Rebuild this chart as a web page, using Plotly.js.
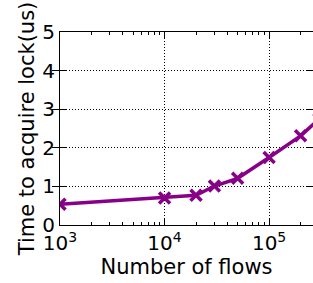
<!DOCTYPE html>
<html><head><meta charset="utf-8">
<script src="https://cdn.plot.ly/plotly-3.0.1.min.js"></script>
<style>html,body{margin:0;padding:0;background:#fff}</style>
</head><body><div id="chart" style="width:313px;height:283px"></div>
<script>
const flows = [1000, 10000, 20000, 30000, 50000, 100000, 200000, 300000];
const lockTimeUs = [0.54, 0.70, 0.77, 1.01, 1.21, 1.75, 2.31, 2.74];
const xTickVals = [1000, 10000, 100000];
const xTickText = ['10<sup>3</sup>', '10<sup>4</sup>', '10<sup>5</sup>'];
const xMinorVals = [2000,3000,4000,5000,6000,7000,8000,9000,20000,30000,40000,50000,60000,70000,80000,90000,200000,300000];
const yTickVals = [0, 1, 2, 3, 4, 5];

const font = {family: 'DejaVu Sans', size: 20, color: '#000'};
const titleFont = {family: 'DejaVu Sans', size: 21, color: '#000'};
const trace = {
  x: flows, y: lockTimeUs, type: 'scatter', mode: 'lines+markers',
  line: {color: '#880088', width: 3.5},
  marker: {symbol: 'x-thin', size: 11, line: {color: '#880088', width: 3.5}, color: '#880088'},
  cliponaxis: true, showlegend: false
};
const layout = {
  width: 313, height: 283,
  margin: {l: 60, r: 0, t: 32, b: 58},
  paper_bgcolor: '#fff', plot_bgcolor: '#fff',
  font: font,
  xaxis: {
    type: 'log', range: [3, 5.42],
    tickvals: xTickVals, ticktext: xTickText,
    ticks: 'inside', ticklen: 7, tickwidth: 1, tickcolor: '#000',
    showline: true, linecolor: '#000', linewidth: 1, mirror: 'allticks',
    showgrid: true, gridcolor: '#000', griddash: '1px,2px', gridwidth: 1,
    zeroline: false, tickfont: font,
    title: {text: 'Number of flows', font: titleFont, standoff: 1}
  },
  xaxis2: {
    type: 'log', range: [3, 5.42], overlaying: 'x', anchor: 'y',
    tickvals: xMinorVals, showticklabels: false,
    ticks: 'inside', ticklen: 3, tickwidth: 1, tickcolor: '#000',
    showgrid: false, showline: false, mirror: 'allticks', zeroline: false
  },
  yaxis: {
    range: [0, 5], tickvals: yTickVals,
    ticks: 'inside', ticklen: 7, tickwidth: 1, tickcolor: '#000',
    showline: true, linecolor: '#000', linewidth: 1, mirror: 'allticks',
    showgrid: true, gridcolor: '#000', griddash: '1px,2px', gridwidth: 1,
    zeroline: false, tickfont: font,
    title: {text: 'Time to acquire lock(us)', font: titleFont, standoff: 1}
  }
};
const minorTrace = {x: [1000], y: [null], xaxis: 'x2', yaxis: 'y', type: 'scatter', showlegend: false, hoverinfo: 'skip'};
Plotly.newPlot('chart', [minorTrace, trace], layout, {displayModeBar: false, staticPlot: true});
</script></body></html>
